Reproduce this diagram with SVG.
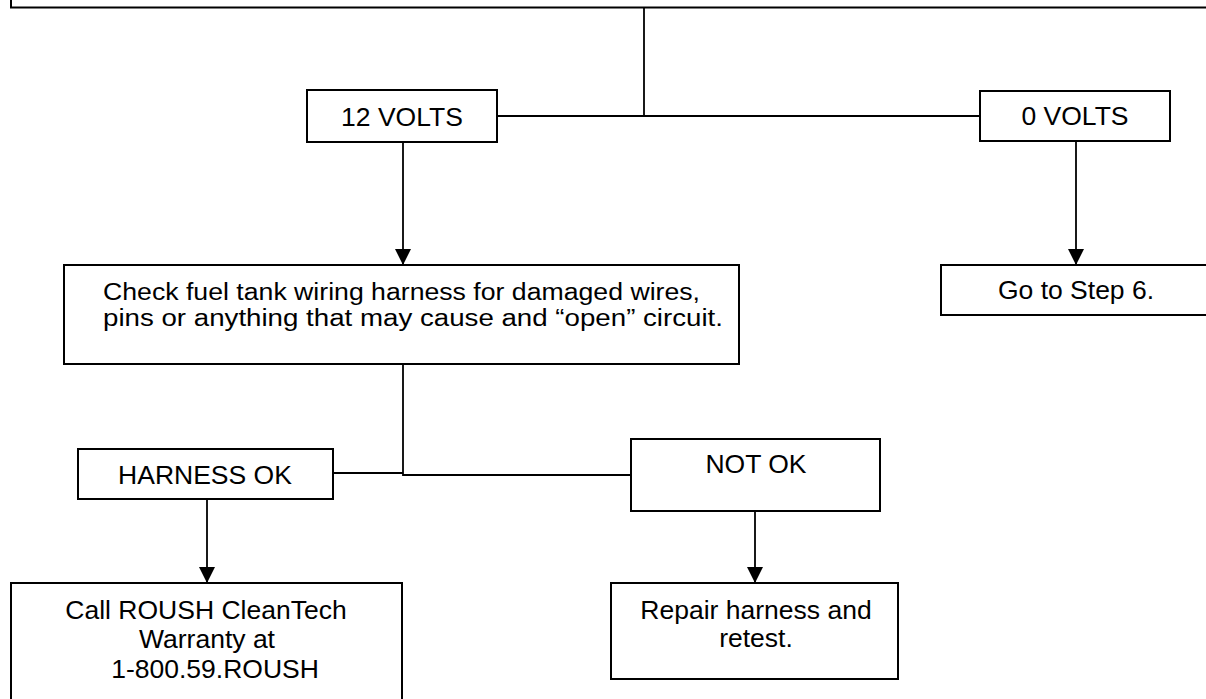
<svg xmlns="http://www.w3.org/2000/svg" width="1206" height="699" viewBox="0 0 1206 699">
  <style>
    .box { fill: #ffffff; stroke: #000000; stroke-width: 2; }
    .conn { fill: none; stroke: #000000; stroke-width: 1.8; }
    .lbl { font-family: "Liberation Sans", Arial, sans-serif; font-size: 26.5px; fill: #000000; text-anchor: middle; }
    .lft { text-anchor: start; font-size: 23.5px; }
  </style>
  <defs>
    <marker id="arrow" markerUnits="userSpaceOnUse" markerWidth="16" markerHeight="16" refX="16" refY="8" orient="auto" viewBox="0 0 16 16">
      <path d="M0,0 L16,8 L0,16 z" fill="#000000"/>
    </marker>
  </defs>
  <rect width="1206" height="699" fill="#ffffff"/>

  <g id="connectors">
    <line class="conn" x1="644" y1="7.5" x2="644" y2="116"/>
    <line class="conn" x1="497" y1="116" x2="980" y2="116"/>
    <line class="conn" x1="403" y1="142" x2="403" y2="265" marker-end="url(#arrow)"/>
    <line class="conn" x1="1076" y1="141" x2="1076" y2="265" marker-end="url(#arrow)"/>
    <polyline class="conn" points="403,364 403,475 631,475"/>
    <line class="conn" x1="333" y1="473" x2="403" y2="473"/>
    <line class="conn" x1="207" y1="499" x2="207" y2="583" marker-end="url(#arrow)"/>
    <line class="conn" x1="755" y1="511" x2="755" y2="583" marker-end="url(#arrow)"/>
  </g>

  <g id="top">
    <rect class="box" x="11" y="-20" width="1250" height="27.5"/>
  </g>

  <g id="v12">
    <rect class="box" x="307" y="90" width="190" height="52"/>
    <text class="lbl" x="402" y="126">12 VOLTS</text>
  </g>

  <g id="v0">
    <rect class="box" x="980" y="91" width="190" height="50"/>
    <text class="lbl" x="1075" y="125">0 VOLTS</text>
  </g>

  <g id="check">
    <rect class="box" x="64" y="265" width="675" height="99"/>
    <text class="lbl lft" x="103" y="299.5" textLength="597" lengthAdjust="spacingAndGlyphs">Check fuel tank wiring harness for damaged wires,</text>
    <text class="lbl lft" x="103" y="326" textLength="620" lengthAdjust="spacingAndGlyphs">pins or anything that may cause and “open” circuit.</text>
  </g>

  <g id="step6">
    <rect class="box" x="941" y="265" width="300" height="50"/>
    <text class="lbl" x="1076" y="299">Go to Step 6.</text>
  </g>

  <g id="harnessok">
    <rect class="box" x="78" y="449" width="255" height="50"/>
    <text class="lbl" x="205" y="484">HARNESS OK</text>
  </g>

  <g id="notok">
    <rect class="box" x="631" y="439" width="249" height="72"/>
    <text class="lbl" x="756" y="473">NOT OK</text>
  </g>

  <g id="call">
    <rect class="box" x="11" y="583" width="391" height="140"/>
    <text class="lbl" x="206" y="619">Call ROUSH CleanTech</text>
    <text class="lbl" x="207" y="648">Warranty at</text>
    <text class="lbl" x="215" y="678">1-800.59.ROUSH</text>
  </g>

  <g id="repair">
    <rect class="box" x="611" y="583" width="287" height="96"/>
    <text class="lbl" x="756" y="619">Repair harness and</text>
    <text class="lbl" x="756" y="647">retest.</text>
  </g>
</svg>
